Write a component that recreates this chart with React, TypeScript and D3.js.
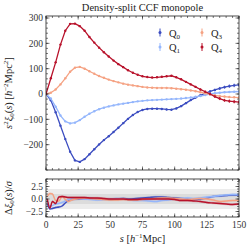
import React from "react";
import * as d3 from "d3";

const sGrid = [0, 3.75, 7.5, 11.25, 15, 18.75, 22.5, 26.25, 30, 33.75, 37.5, 41.25, 45, 48.75, 52.5, 56.25, 60, 63.75, 67.5, 71.25, 75, 78.75, 82.5, 86.25, 90, 93.75, 97.5, 101.25, 105, 108.75, 112.5, 116.25, 120, 123.75, 127.5, 131.25, 135, 138.75, 142.5, 146.25, 150];

const q0 = [0, -25, -72, -125, -178, -228, -262, -268, -257, -238, -218, -199, -182, -167, -150, -133, -115, -98, -83, -71, -63, -59, -58, -58, -59, -61, -62, -57, -48, -36, -24, -14, -5, 3, 10, 16, 22, 27, 31, 34, 36];
const q1 = [0, -18, -50, -85, -108, -116, -113, -103, -90, -78, -68, -60, -54, -49, -45, -41, -38, -35, -32, -29, -27, -25, -24, -23, -22, -21, -20, -19, -18, -16, -14, -11, -8, -4, 0, 3, 5, 7, 8, 9, 10];
const q3 = [0, 5, 18, 38, 62, 88, 104, 107, 100, 90, 80, 71, 64, 57, 51, 46, 41, 37, 34, 31, 28, 26, 25, 24, 24, 24, 23, 21, 19, 17, 14, 11, 7, 3, -1, -5, -8, -10, -12, -13, -14];
const q4 = [0, 62, 125, 195, 250, 277, 278, 268, 250, 225, 203, 183, 165, 148, 132, 118, 106, 94, 84, 76, 70, 67, 65, 66, 68, 70, 72, 66, 58, 48, 38, 28, 18, 9, 0, -10, -18, -25, -28, -30, -32];
const errBig = [0, 2, 2, 2, 2, 2, 2, 2, 2, 2, 2, 2, 2, 2, 2, 2, 2, 2, 2, 2, 2, 2, 2, 3, 3, 3, 3, 3, 3, 3, 3, 4, 4, 4, 5, 5, 6, 6, 7, 7, 8];
const errSmall = [0, 1, 1, 1, 1, 1, 1, 1, 1, 1, 1, 1, 1, 1, 1, 1, 1, 1, 1, 1, 1, 1, 1, 1, 1, 2, 2, 2, 2, 2, 2, 2, 2, 2, 2, 3, 3, 3, 3, 3, 3];

const sRes = [1, 3, 5, 7.5, 10, 12.5, 15, 17.5, 20, 25, 30, 35, 40, 45, 50, 55, 60, 65, 70, 75, 80, 85, 90, 95, 100, 105, 110, 115, 120, 125, 130, 135, 140, 145, 150];
const r0 = [-0.9, -2.0, -1.9, -1.7, -1.6, -1.4, -0.8, -0.3, -0.1, 0, 0.1, 0.1, 0, 0, -0.1, 0, 0.1, 0, 0.1, 0.2, 0.3, 0.4, 0.4, 0.3, 0.2, 0.1, 0, -0.1, 0, 0.2, 0.5, 0.6, 0.7, 0.8, 0.8];
const r1 = [-0.5, -1.4, -1.3, -1.0, -0.9, -0.7, -0.4, -0.1, 0, 0.1, 0, -0.1, -0.2, -0.1, 0, 0.1, 0, -0.2, -0.3, -0.3, -0.4, -0.5, -0.3, -0.2, 0, 0.1, 0.2, 0.1, 0.2, 0.4, 0.5, 0.7, 0.8, 0.9, 0.9];
const r3 = [0.5, 1.1, 1.0, -0.3, -0.4, 0.5, -0.1, -0.5, -0.2, 0.1, 0.2, 0.1, 0, -0.1, -0.2, -0.2, -0.1, -0.2, -0.2, -0.1, 0, 0.1, 0.2, 0.2, 0.1, 0, -0.1, 0, 0.1, 0, -0.2, -0.5, -0.4, -0.3, -0.3];
const r4 = [0, -1.8, -0.5, -0.9, 0.4, 0.5, 0.4, 0.3, 0.3, 0.3, 0.3, 0.2, 0.2, 0.1, 0, 0, 0, -0.1, -0.1, 0, 0, 0, 0, 0, -0.1, -0.3, -0.3, -0.4, -0.5, -0.7, -0.8, -0.9, -1.0, -1.1, -1.0];

const labels = ["0", "1", "3", "4"];
const colors = ["#3b4cc0", "#94b6fc", "#f5a283", "#b8122b"];
const mainTicks = [-200, -100, 0, 100, 200, 300];
const xTicks = [0, 25, 50, 75, 100, 125, 150];
const resTicks = [-2.5, 0, 2.5];

const L = 46, R = 239, T = 16, B = 170, RT = 179, RB = 217;
const FONT = "'Liberation Serif', 'DejaVu Serif', serif";

export default function App() {
  const x = d3.scaleLinear().domain([0, 150]).range([L, R]);
  const y = d3.scaleLinear().domain([-300, 308]).range([B, T]);
  const yr = d3.scaleLinear().domain([-3.6, 4.0]).range([RB, RT]);
  const main = [q0, q1, q3, q4];
  const errs = [errBig, errSmall, errSmall, errBig];
  const res = [r0, r1, r3, r4];
  const line = d3.line<number>().x((_, i) => x(sGrid[i])).y((d) => y(d));
  const rline = d3.line<number>().x((_, i) => x(sRes[i])).y((d) => yr(d)).curve(d3.curveMonotoneX);
  const rarea = d3.area<number>().x((_, i) => x(sRes[i])).y0((d) => yr(d - 0.25)).y1((d) => yr(d + 0.25)).curve(d3.curveMonotoneX);

  const minorX = d3.range(0, 151, 5);
  const minorY = d3.range(-300, 309, 20);
  const minorR = d3.range(-3.5, 4.01, 0.5);

  const frameTicks = (top: number, bottom: number, ys: number[], ysMinor: number[], yScale: (v: number) => number, key: string) => (
    <g stroke="#222" strokeWidth={0.6}>
      {minorX.map((v) => (
        <g key={key + "mx" + v}>
          <line x1={x(v)} x2={x(v)} y1={bottom} y2={bottom - 2} />
          <line x1={x(v)} x2={x(v)} y1={top} y2={top + 2} />
        </g>
      ))}
      {xTicks.map((v) => (
        <g key={key + "Mx" + v}>
          <line x1={x(v)} x2={x(v)} y1={bottom} y2={bottom - 3.5} />
          <line x1={x(v)} x2={x(v)} y1={top} y2={top + 3.5} />
        </g>
      ))}
      {ysMinor.map((v) => (
        <g key={key + "my" + v}>
          <line x1={L} x2={L + 2} y1={yScale(v)} y2={yScale(v)} />
          <line x1={R} x2={R - 2} y1={yScale(v)} y2={yScale(v)} />
        </g>
      ))}
      {ys.map((v) => (
        <g key={key + "My" + v}>
          <line x1={L} x2={L + 3.5} y1={yScale(v)} y2={yScale(v)} />
          <line x1={R} x2={R - 3.5} y1={yScale(v)} y2={yScale(v)} />
        </g>
      ))}
    </g>
  );

  const fmt = (v: number) => (v < 0 ? "\u2212" + Math.abs(v) : String(v));
  const fmtR = (v: number) => (v < 0 ? "\u2212" + Math.abs(v).toFixed(1) : v.toFixed(1));

  return (
    <svg width={249} height={249} style={{ position: "absolute", left: 0, top: 0, background: "#fff" }} fontFamily={FONT}>
      <defs>
        <clipPath id="cm"><rect x={L} y={T} width={R - L} height={B - T} /></clipPath>
        <clipPath id="cr"><rect x={L} y={RT} width={R - L} height={RB - RT} /></clipPath>
      </defs>
      <text x={(L + R) / 2} y={11} textAnchor="middle" fontSize={10.5} fill="#222">Density-split CCF monopole</text>

      {/* main panel */}
      <g clipPath="url(#cm)">
        {main.map((vals, k) => (
          <g key={"s" + k} stroke={colors[k]} fill={colors[k]}>
            <path d={line(vals) || ""} fill="none" strokeWidth={1.3} />
            {vals.map((v, i) => (
              <g key={i}>
                <line x1={x(sGrid[i])} x2={x(sGrid[i])} y1={y(v - errs[k][i])} y2={y(v + errs[k][i])} strokeWidth={0.8} />
                <circle cx={x(sGrid[i])} cy={y(v)} r={1.2} stroke="none" />
              </g>
            ))}
          </g>
        ))}
      </g>
      <rect x={L} y={T} width={R - L} height={B - T} fill="none" stroke="#222" strokeWidth={0.8} />
      {frameTicks(T, B, mainTicks, minorY, y, "m")}
      {mainTicks.map((v) => (
        <text key={"yt" + v} x={L - 3} y={y(v) + 3.2} textAnchor="end" fontSize={9.5} fill="#333">{fmt(v)}</text>
      ))}
      <text transform={`translate(12, ${(T + B) / 2}) rotate(-90)`} textAnchor="middle" fontSize={10.5} fill="#222">
        <tspan fontStyle="italic">s</tspan><tspan fontSize={7} dy={-4}>2</tspan><tspan dy={4} fontStyle="italic">ξ</tspan><tspan fontSize={7} dy={2}>0</tspan><tspan dy={-2}>(</tspan><tspan fontStyle="italic">s</tspan><tspan>) [</tspan><tspan fontStyle="italic">h</tspan><tspan fontSize={7} dy={-4}>−2</tspan><tspan dy={4}>Mpc</tspan><tspan fontSize={7} dy={-4}>2</tspan><tspan dy={4}>]</tspan>
      </text>

      {/* legend */}
      {[0, 1, 2, 3].map((k) => {
        const lx = k < 2 ? 160 : 202;
        const ly = k % 2 === 0 ? 32.5 : 47;
        return (
          <g key={"lg" + k}>
            <line x1={lx} x2={lx} y1={ly - 4} y2={ly + 4} stroke={colors[k]} strokeWidth={1} />
            <circle cx={lx} cy={ly} r={1.5} fill={colors[k]} />
            <text x={lx + 9} y={ly + 4} fontSize={10.5} fill="#222">Q<tspan fontSize={7} dy={2}>{labels[k]}</tspan></text>
          </g>
        );
      })}

      {/* residual panel */}
      <rect x={L} y={yr(2)} width={R - L} height={yr(-2) - yr(2)} fill="#ececec" />
      <rect x={L} y={yr(1)} width={R - L} height={yr(-1) - yr(1)} fill="#dcdcdc" />
      <g clipPath="url(#cr)">
        {res.map((vals, k) => (
          <g key={"r" + k}>
            <path d={rarea(vals) || ""} fill={colors[k]} opacity={0.2} />
            <path d={rline(vals) || ""} fill="none" stroke={colors[k]} strokeWidth={1.4} />
          </g>
        ))}
      </g>
      <rect x={L} y={RT} width={R - L} height={RB - RT} fill="none" stroke="#222" strokeWidth={0.8} />
      {frameTicks(RT, RB, resTicks, minorR, yr, "r")}
      {resTicks.map((v) => (
        <text key={"rt" + v} x={L - 3} y={yr(v) + 3.2} textAnchor="end" fontSize={9.5} fill="#333">{fmtR(v)}</text>
      ))}
      {xTicks.map((v) => (
        <text key={"xt" + v} x={x(v)} y={228} textAnchor="middle" fontSize={9.5} fill="#333">{v}</text>
      ))}
      <text transform={`translate(12, ${(RT + RB) / 2}) rotate(-90)`} textAnchor="middle" fontSize={10.5} fill="#222">
        Δ<tspan fontStyle="italic">ξ</tspan><tspan fontSize={7} dy={2}>0</tspan><tspan dy={-2}>(</tspan><tspan fontStyle="italic">s</tspan><tspan>)/</tspan><tspan fontStyle="italic">σ</tspan>
      </text>
      <text x={(L + R) / 2} y={242} textAnchor="middle" fontSize={10.5} fill="#222">
        <tspan fontStyle="italic">s</tspan> [<tspan fontStyle="italic">h</tspan><tspan fontSize={7} dy={-4}>−1</tspan><tspan dy={4}>Mpc]</tspan>
      </text>
    </svg>
  );
}
